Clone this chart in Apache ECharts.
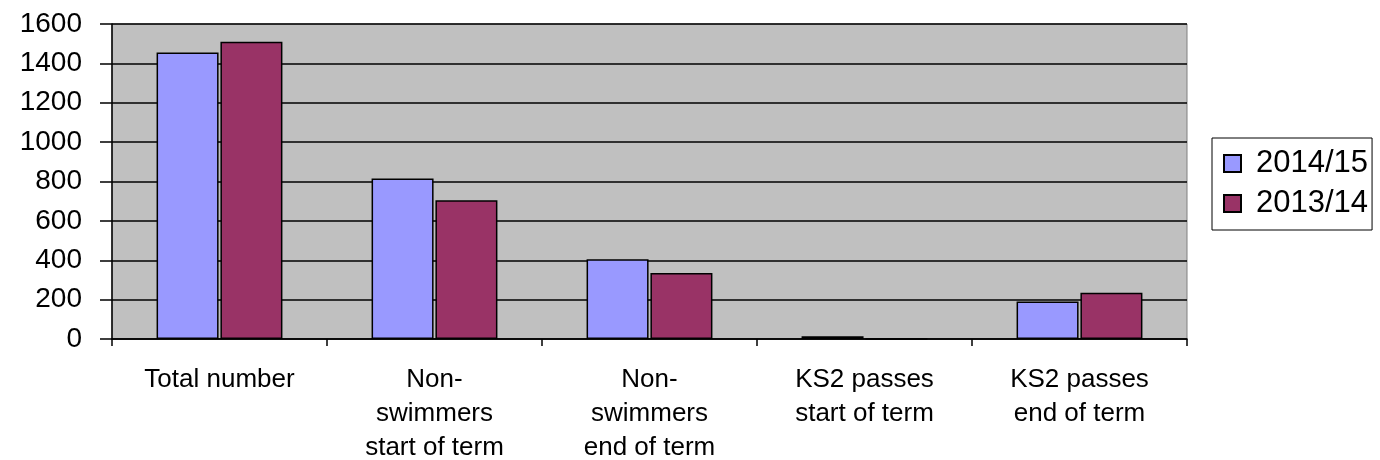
<!DOCTYPE html>
<html>
<head>
<meta charset="utf-8">
<script src="https://cdn.jsdelivr.net/npm/echarts@6/dist/echarts.min.js"></script>
<style>
  html, body { margin: 0; padding: 0; background: #fff; }
  #chart { width: 1380px; height: 460px; }
</style>
</head>
<body>
<div id="chart"></div>
<script>
// categories and values
var categories = ['Total number', 'Non-\nswimmers\nstart of term', 'Non-\nswimmers\nend of term', 'KS2 passes\nstart of term', 'KS2 passes\nend of term']
var values2014 = [1455, 815, 405, 14, 190]
var values2013 = [1510, 705, 335, 0, 235]
var yTicks = [0, 200, 400, 600, 800, 1000, 1200, 1400, 1600]

var font = 'Arial, "Liberation Sans", sans-serif'

var chart = echarts.init(document.getElementById('chart'))
chart.setOption({
  animation: false,
  textStyle: { fontFamily: font },
  legend: {
    orient: 'vertical',
    left: 1212,
    top: 138,
    padding: [10, 4, 11, 11],
    icon: 'rect',
    itemWidth: 17,
    itemHeight: 17,
    itemGap: 9,
    borderColor: '#000',
    borderWidth: 1,
    backgroundColor: '#fff',
    textStyle: { fontSize: 31, color: '#000', lineHeight: 26, padding: [0, 0, 0, 10], fontFamily: font },
    data: ['2014/15', '2013/14']
  },
  grid: {
    left: 112,
    right: 193,
    top: 24,
    bottom: 121,
    outerBoundsMode: 'none',
    containLabel: false,
    show: true,
    backgroundColor: '#c0c0c0',
    borderColor: '#808080',
    borderWidth: 1
  },
  xAxis: {
    type: 'category',
    data: categories,
    axisLine: { lineStyle: { color: '#000', width: 1.5 } },
    axisTick: { show: true, length: 7, lineStyle: { color: '#000', width: 1.5 } },
    axisLabel: { fontSize: 26, color: '#000', lineHeight: 34, margin: 24, interval: 0, fontFamily: font }
  },
  yAxis: {
    type: 'value',
    min: yTicks[0],
    max: yTicks[yTicks.length - 1],
    interval: 200,
    axisLine: { show: true, lineStyle: { color: '#000', width: 1.5 } },
    axisTick: { show: true, inside: false, length: 12, lineStyle: { color: '#000', width: 1.5 } },
    splitLine: { lineStyle: { color: '#000', width: 1.5 } },
    axisLabel: { fontSize: 28, color: '#000', margin: 30, fontFamily: font, formatter: function (v) { return String(v) } }
  },
  series: [
    {
      name: '2014/15',
      type: 'bar',
      data: values2014,
      barWidth: 62,
      barGap: '3%',
      itemStyle: { color: '#9999ff', borderColor: '#000', borderWidth: 1.5 }
    },
    {
      name: '2013/14',
      type: 'bar',
      data: values2013,
      barWidth: 62,
      barGap: '3%',
      itemStyle: { color: '#993366', borderColor: '#000', borderWidth: 1.5 }
    }
  ]
})
</script>
</body>
</html>
